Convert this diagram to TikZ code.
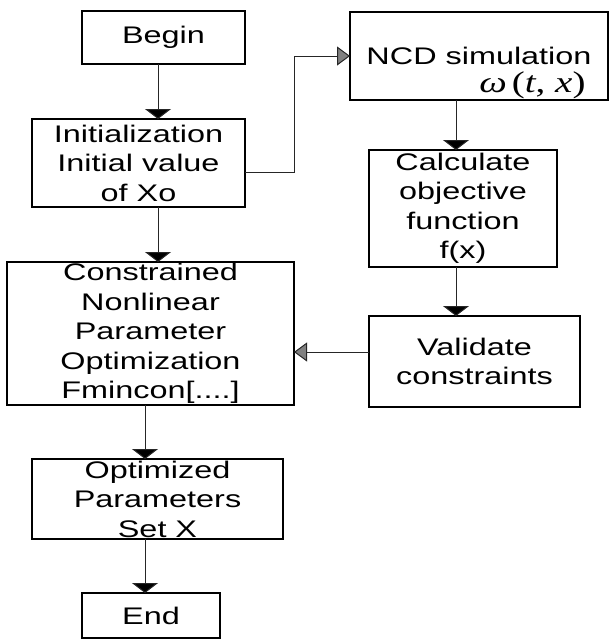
\documentclass[tikz,border=0pt]{standalone}
\usepackage{fontspec}
\setmainfont{Liberation Sans}[FakeStretch=1.35]
\newfontfamily\eqfont{Liberation Serif}[FakeStretch=1.3]
\usetikzlibrary{arrows.meta,positioning}

\begin{document}
\begin{tikzpicture}[->,>={Triangle[width=26pt,length=10pt,fill=black]},line width=1pt,
  box/.style={rectangle,draw=black,line width=1.6pt,align=center,inner sep=0pt,outer sep=0pt,
    font=\fontsize{24}{29.5}\selectfont},
  back/.style={-{Triangle[width=19pt,length=13pt,fill=gray]}}]
  \useasboundingbox (0,0) rectangle (610pt,-641pt);
  % left column
  \node[box,minimum width=163pt,minimum height=53pt] (begin) at (163.5pt,-37.5pt) {Begin};
  \node[box,minimum width=213pt,minimum height=88pt,below=55pt of begin,xshift=-25pt] (init)
    {Initialization\\Initial value\\of Xo};
  \node[box,minimum width=287pt,minimum height=143pt,below=55pt of init,xshift=12pt] (cons)
    {Constrained\\Nonlinear\\Parameter\\Optimization\\Fmincon[....]};
  \node[box,minimum width=251pt,minimum height=80pt,below=54pt of cons,xshift=7pt] (opt)
    {Optimized\\Parameters\\Set X};
  \node[box,minimum width=138pt,minimum height=45pt,below=54pt of opt,xshift=-6.5pt] (finish) {End};
  % right column
  \node[box,minimum width=258pt,minimum height=88pt,right=105pt of begin,yshift=-18.5pt] (ncd)
    {NCD simulation};
  \node[anchor=south east,inner sep=0pt,font=\eqfont\fontsize{30}{30}\selectfont] (omega)
    at ([xshift=-22pt,yshift=0.8pt]ncd.south east) {\textit{ω}\,(\textit{t}, \textit{x})};
  \node[box,minimum width=188pt,minimum height=117pt,below=50pt of ncd,xshift=-16pt] (calc)
    {Calculate\\objective\\function\\f(x)};
  \node[box,minimum width=211pt,minimum height=91pt,below=49pt of calc,xshift=11.5pt] (valid)
    {Validate\\constraints};

  \draw[black!85] ([xshift=-5.5pt]begin.south) -- ([xshift=19.5pt]init.north);
  \draw[black!85] ([xshift=19.5pt]init.south) -- ([xshift=7.5pt]cons.north);
  \draw[black!85] ([xshift=-5.5pt]cons.south) -- ([xshift=-12.5pt]opt.north);
  \draw[black!85] ([xshift=-12.5pt]opt.south) -- ([xshift=-6pt]finish.north);
  \draw[black!85] ([xshift=-23pt]ncd.south) -- ([xshift=-7pt]calc.north);
  \draw[black!85] ([xshift=-7pt]calc.south) -- ([xshift=-18.5pt]valid.north);
  \draw[black!85,back] ([yshift=-9pt]init.east) -| ([xshift=-56pt]ncd.west) -- (ncd.west);
  \draw[black!85,back] ([yshift=9.5pt]valid.west) -- ([yshift=-18.5pt]cons.east);
\end{tikzpicture}
\end{document}
